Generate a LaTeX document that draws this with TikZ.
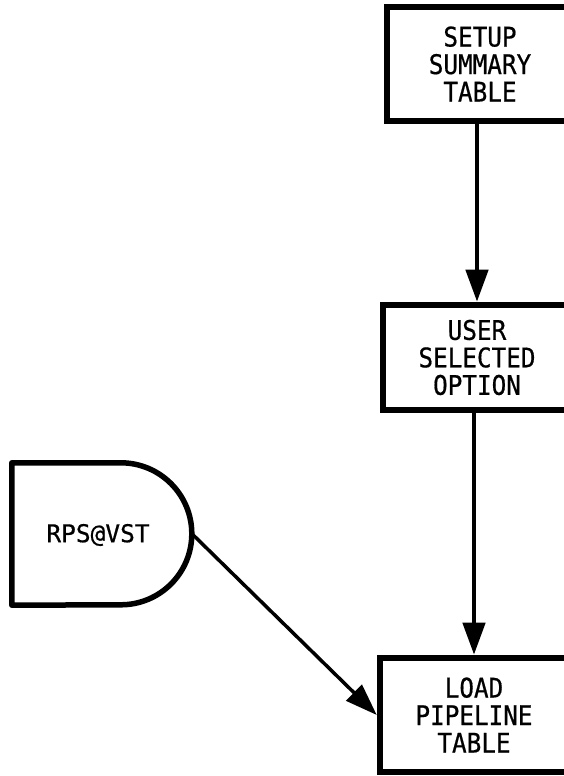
\documentclass[tikz,border=0pt]{standalone}
\usepackage{fontspec}
\setmainfont{DejaVu Sans Mono}
\newfontfamily\boxfont[FakeStretch=0.9,FakeBold=0.6]{DejaVu Sans Mono}
\newfontfamily\rpsfont[FakeBold=0.6]{DejaVu Sans Mono}
\usetikzlibrary{arrows.meta}
\tikzset{
  procbox/.style={draw, line width=6.5pt, align=center, inner sep=0pt,
    font=\boxfont\fontsize{27}{27.5}\selectfont},
  flow/.style={line width=4.5pt, -{Triangle[width=22pt,length=32pt]}},
  thinflow/.style={line width=3.5pt, -{Triangle[width=22pt,length=32pt]}}
}
\begin{document}
\begin{tikzpicture}[x=1pt,y=1pt]
\useasboundingbox (0,0) rectangle (564,776);
\clip (0,0) rectangle (564,776);
\node[procbox, minimum width=186pt, minimum height=114pt] (setup) at (480,712) {SETUP\\SUMMARY\\TABLE};
\node[procbox, minimum width=188pt, minimum height=105pt] (user) at (477,418.5) {USER\\SELECTED\\OPTION};
\node[procbox, minimum width=188pt, minimum height=114pt] (load) at (474,61) {LOAD\\PIPELINE\\TABLE};
\node[minimum width=180pt, minimum height=142pt, inner sep=0pt] (rps) at (102,242) {};
\node[font=\rpsfont\fontsize{24.5}{28}\selectfont] (rpstext) at (98,241) {RPS@VST};
\draw[line width=5.5pt, line join=round] (rps.north west) -- ++(109,0)
  arc[start angle=90, end angle=-90, radius=71] -- (rps.south west) -- cycle;
\draw[flow] (setup.south -| 477,0) -- (477,0 |- user.north);
\draw[flow] (user.south -| load.north) -- (load.north);
\draw[thinflow] (rps.east) -- (load.west);
\end{tikzpicture}
\end{document}
